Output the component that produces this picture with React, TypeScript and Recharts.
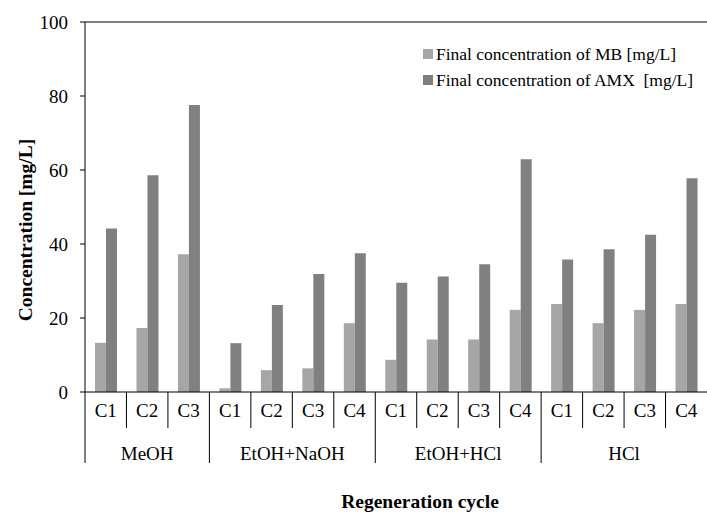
import React from 'react';
import { BarChart, Bar, XAxis, YAxis, ReferenceLine } from 'recharts';

const groups = ['MeOH', 'EtOH+NaOH', 'EtOH+HCl', 'HCl'];
const cyclesPerGroup = [
  ['C1', 'C2', 'C3'],
  ['C1', 'C2', 'C3', 'C4'],
  ['C1', 'C2', 'C3', 'C4'],
  ['C1', 'C2', 'C3', 'C4'],
];
const mbFinal = [13.3, 17.3, 37.2, 1.0, 5.9, 6.4, 18.6, 8.7, 14.2, 14.2, 22.2, 23.8, 18.6, 22.2, 23.8];
const amxFinal = [44.2, 58.6, 77.6, 13.2, 23.5, 31.9, 37.5, 29.5, 31.2, 34.5, 62.9, 35.8, 38.6, 42.5, 57.8];
const yTicks = [0, 20, 40, 60, 80, 100];

const seriesNames = ['Final concentration of MB [mg/L]', 'Final concentration of AMX  [mg/L]'];
const colors = ['#a6a6a6', '#808080'];

const rows: any[] = [];
let k = 0;
cyclesPerGroup.forEach((cycles, g) => {
  cycles.forEach((c, i) => {
    rows.push({ cycle: c, group: groups[g], first: i === 0, size: cycles.length, mb: mbFinal[k], amx: amxFinal[k] });
    k++;
  });
});

const W = 707;
const H = 515;
const AXIS_X = 85;
const PLOT_W = W - AXIS_X;
const band = PLOT_W / rows.length;
const font = 'Liberation Serif, Tinos, DejaVu Serif, Noto Serif, serif';

function CycleTick(props: any) {
  const { x, y, payload } = props;
  const idx = props.index ?? payload.index;
  const row = rows[idx];
  const left = x - band / 2;
  return (
    <g>
      <line x1={left} x2={left} y1={y} y2={y + (row.first ? 71 : 36)} stroke="#000" strokeWidth={1} />
      <text x={x} y={y + 25} textAnchor="middle" fontSize={19} style={{ fontFamily: font }} fill="#000">{payload.value}</text>
      {row.first && (
        <text x={left + (band * row.size) / 2} y={y + 68} textAnchor="middle" fontSize={19} style={{ fontFamily: font }} fill="#000">
          {row.group}
        </text>
      )}
    </g>
  );
}

export default function App() {
  return (
    <div style={{ position: 'absolute', left: 0, top: 0, width: W, height: H, background: '#fff', fontFamily: font }}>
      <BarChart width={W} height={H} data={rows} margin={{ top: 22, right: 0, bottom: 0, left: 0 }} barCategoryGap={10} barGap={0}>
        <XAxis
          dataKey="cycle"
          interval={0}
          height={123}
          tickSize={0}
          tickMargin={0}
          tickLine={false}
          axisLine={{ stroke: '#000' }}
          tick={<CycleTick />}
          label={{
            content: () => (
              <text x={420} y={508} textAnchor="middle" fontSize={19.5} fontWeight="bold" style={{ fontFamily: font }} fill="#000">
                Regeneration cycle
              </text>
            ),
          }}
        />
        <YAxis
          width={AXIS_X}
          domain={[0, 100]}
          ticks={yTicks}
          interval={0}
          tickSize={5}
          tickMargin={12}
          axisLine={{ stroke: '#000' }}
          tickLine={{ stroke: '#000' }}
          tick={{ fill: '#000', fontSize: 19, style: { fontFamily: font } }}
          label={{
            content: () => (
              <text
                x={25}
                y={230}
                transform="rotate(-90, 25, 230)"
                textAnchor="middle"
                dominantBaseline="central"
                fontSize={19.5}
                fontWeight="bold"
                style={{ fontFamily: font }}
                fill="#000"
              >
                Concentration [mg/L]
              </text>
            ),
          }}
        />
        <ReferenceLine y={100} stroke="#000" />
        <Bar dataKey="mb" name={seriesNames[0]} fill={colors[0]} isAnimationActive={false} />
        <Bar dataKey="amx" name={seriesNames[1]} fill={colors[1]} isAnimationActive={false} />
      </BarChart>
      <div style={{ position: 'absolute', left: 423, top: 41, fontFamily: font, fontSize: 17.5, color: '#000' }}>
        {seriesNames.map((n, i) => (
          <div key={n} style={{ display: 'flex', alignItems: 'center', height: 26, whiteSpace: 'pre' }}>
            <span style={{ display: 'inline-block', width: 10, height: 10, background: colors[i], marginRight: 3 }} />
            {n}
          </div>
        ))}
      </div>
    </div>
  );
}
